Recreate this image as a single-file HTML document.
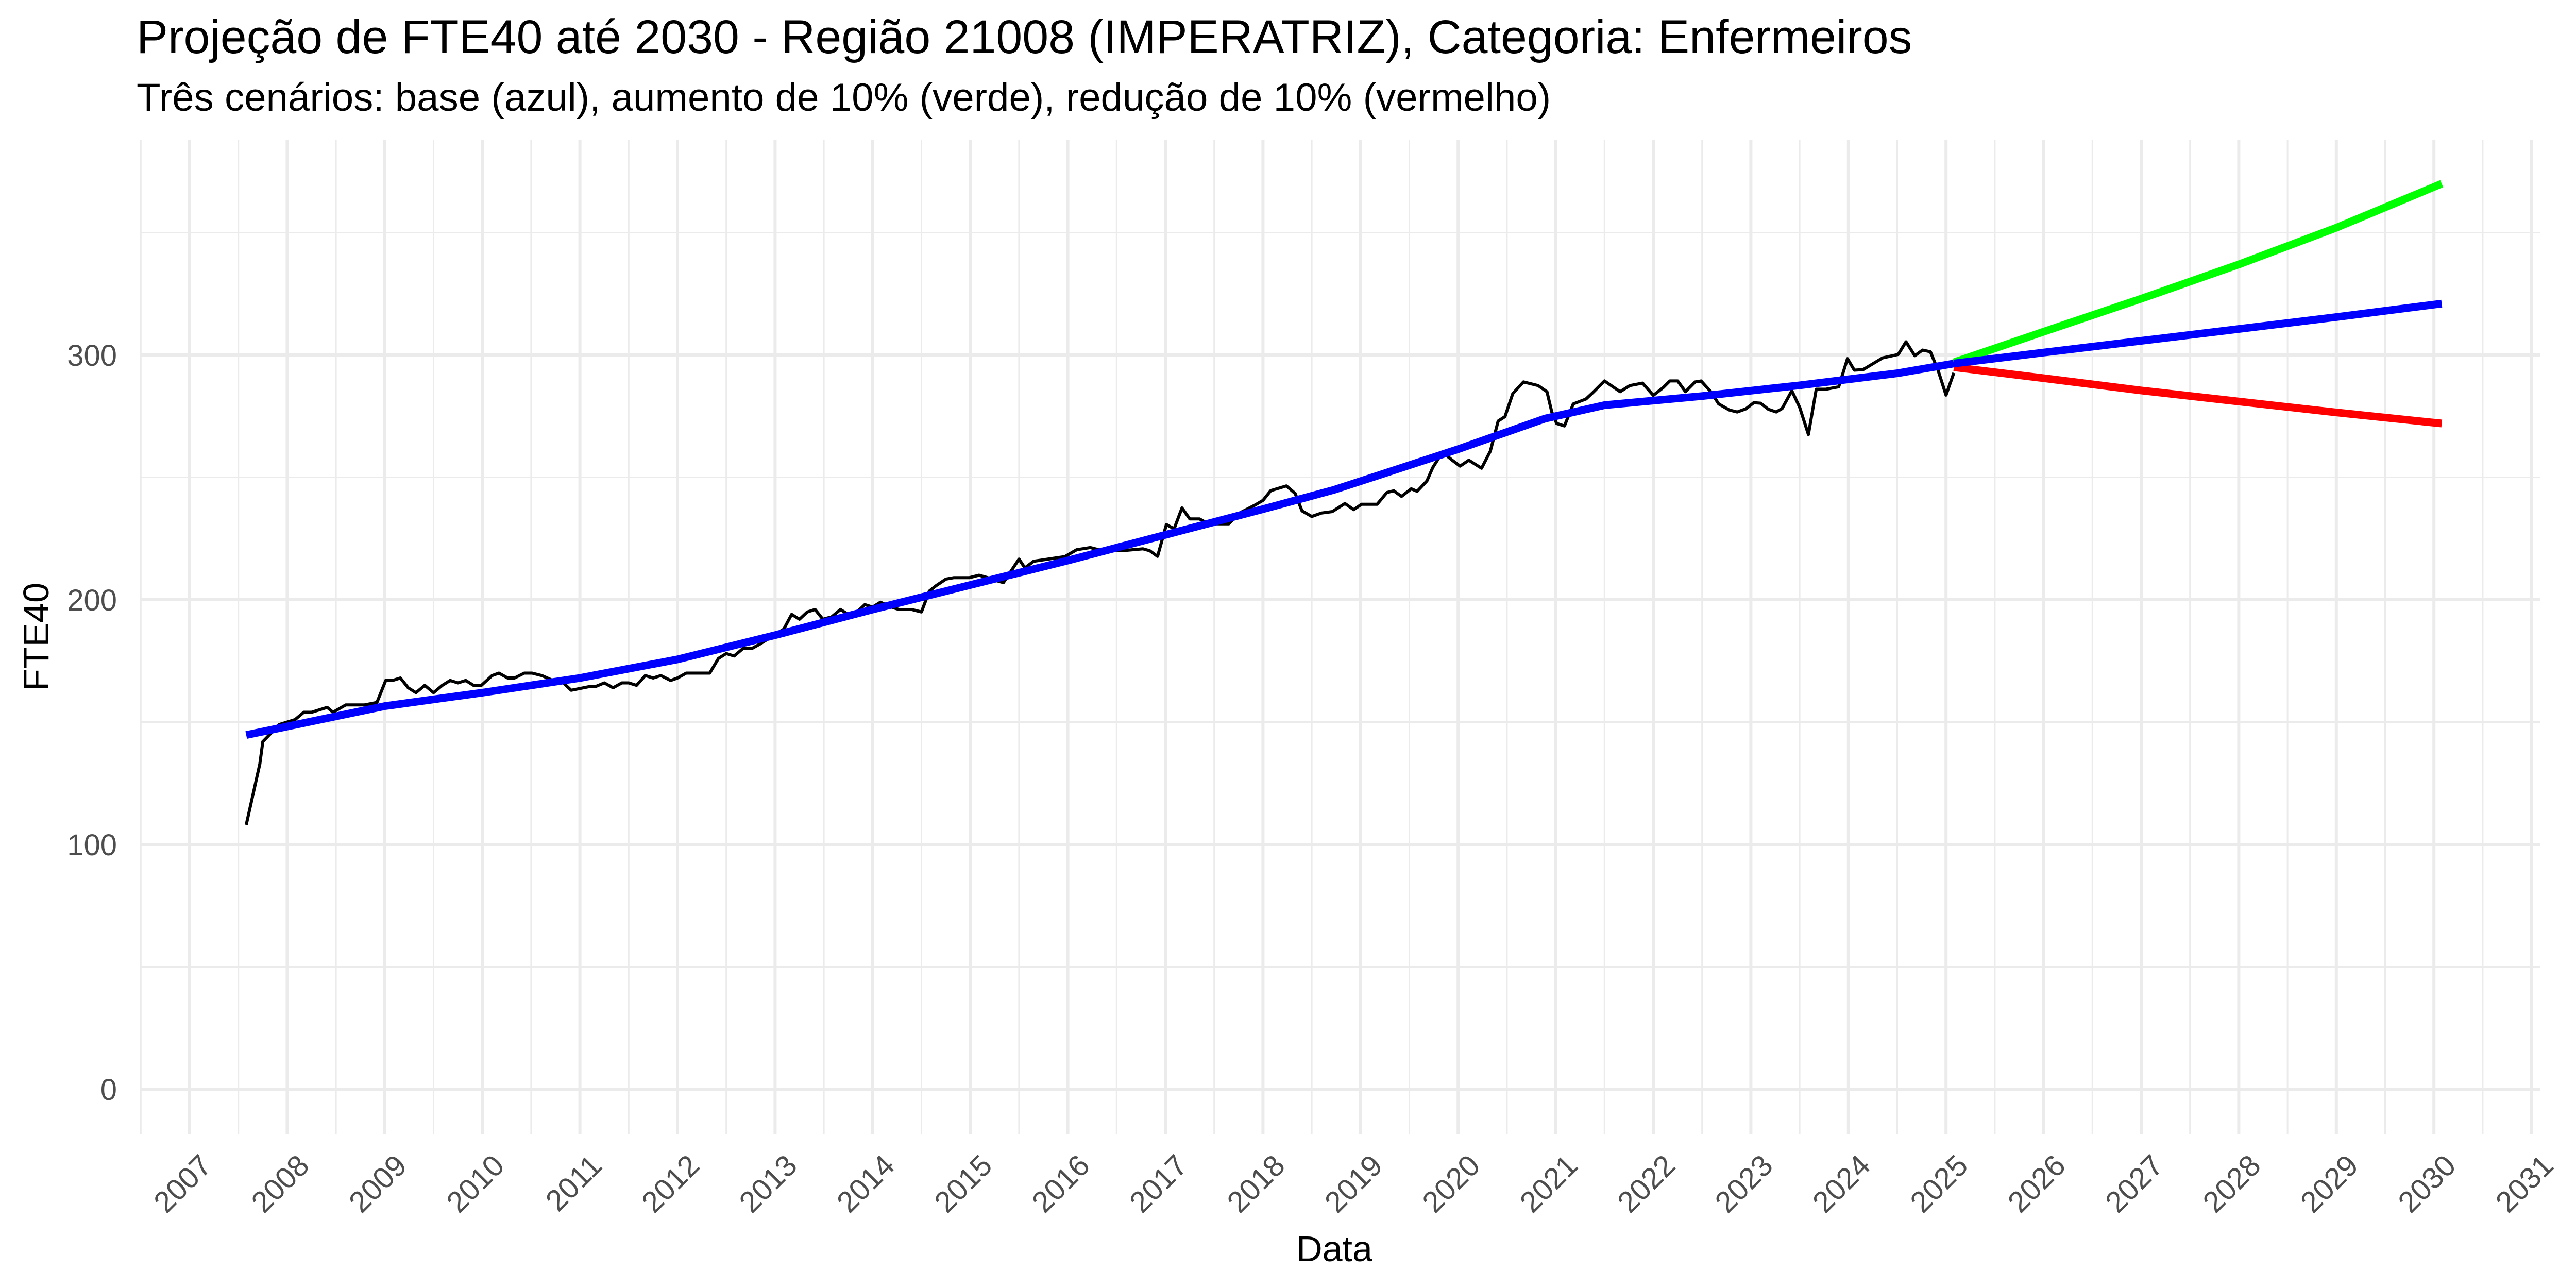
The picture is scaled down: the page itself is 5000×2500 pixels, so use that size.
<!DOCTYPE html>
<html><head><meta charset="utf-8">
<style>
html,body{margin:0;padding:0;background:#fff;}
svg{display:block;font-family:"Liberation Sans",Arial,sans-serif;}
</style></head>
<body>
<svg id="chart" width="5000" height="2500" viewBox="0 0 5000 2500" xmlns="http://www.w3.org/2000/svg">
<rect x="0" y="0" width="5000" height="2500" fill="#fff"/>
<text x="265" y="103" font-size="91.5" fill="#000">Projeção de FTE40 até 2030 - Região 21008 (IMPERATRIZ), Categoria: Enfermeiros</text>
<text x="265" y="215" font-size="76.3" fill="#000">Três cenários: base (azul), aumento de 10% (verde), redução de 10% (vermelho)</text>
<g id="grid"></g>
<g id="series"></g>
<g id="axes"></g>
<text x="2590" y="2448" font-size="70" text-anchor="middle" fill="#000">Data</text>
<text transform="translate(94,1236) rotate(-90)" font-size="70" text-anchor="middle" fill="#000">FTE40</text>
</svg>
<script>
const yearTicks = [2007,2008,2009,2010,2011,2012,2013,2014,2015,2016,2017,2018,2019,2020,2021,2022,2023,2024,2025,2026,2027,2028,2029,2030,2031];
const yTicks = [0,100,200,300];
const yMinor = [50,150,250,350];
const obsT = [2007.58,2007.72,2007.75,2007.92,2008.08,2008.17,2008.25,2008.41,2008.47,2008.6,2008.79,2008.92,2009.01,2009.08,2009.16,2009.24,2009.32,2009.41,2009.5,2009.59,2009.67,2009.75,2009.83,2009.91,2009.99,2010.1,2010.17,2010.26,2010.33,2010.43,2010.51,2010.61,2010.75,2010.83,2010.91,2011.1,2011.16,2011.25,2011.34,2011.43,2011.5,2011.58,2011.67,2011.75,2011.83,2011.93,2012.0,2012.09,2012.33,2012.42,2012.5,2012.58,2012.67,2012.76,2012.85,2013.09,2013.17,2013.25,2013.33,2013.41,2013.49,2013.58,2013.67,2013.75,2013.84,2013.92,2014.0,2014.08,2014.19,2014.27,2014.4,2014.5,2014.58,2014.65,2014.75,2014.83,2014.99,2015.09,2015.18,2015.25,2015.34,2015.5,2015.56,2015.65,2015.97,2016.09,2016.23,2016.36,2016.55,2016.77,2016.84,2016.92,2017.01,2017.09,2017.17,2017.25,2017.35,2017.44,2017.65,2017.76,2017.92,2018.0,2018.08,2018.24,2018.33,2018.4,2018.5,2018.6,2018.71,2018.84,2018.93,2019.01,2019.17,2019.27,2019.34,2019.42,2019.52,2019.58,2019.68,2019.74,2019.84,2019.94,2020.02,2020.11,2020.24,2020.33,2020.41,2020.48,2020.56,2020.67,2020.82,2020.91,2020.96,2021.01,2021.09,2021.18,2021.31,2021.39,2021.5,2021.66,2021.76,2021.89,2022.0,2022.1,2022.17,2022.25,2022.33,2022.43,2022.49,2022.59,2022.67,2022.78,2022.86,2022.95,2023.03,2023.1,2023.18,2023.26,2023.32,2023.42,2023.5,2023.59,2023.67,2023.77,2023.9,2023.99,2024.06,2024.15,2024.25,2024.35,2024.51,2024.59,2024.68,2024.76,2024.84,2024.92,2025.0,2025.08];
const obsV = [108,133,142,149,151,154,154,156,154,157,157,158,167,167,168,164,162,165,162,165,167,166,167,165,165,169,170,168,168,170,170,169,166.5,166,163,164.5,164.5,166,164,166,166,165,169,168,169,167,168,170,170,176,178,177,180,180,182,188,194,192,195,196,192,193,196,194,195,198,197,199,197,196,196,195,203.5,205.7,208.4,209,209,210,209,208,207,216.6,213,215.7,217.6,220.4,221.3,220,220,220.8,220,217.7,230.7,229,237.5,233,233,231,231,235.4,238.7,240.6,244.6,246.5,243.4,236.3,234,235.4,236,239.3,236.8,239,239,243.8,244.5,242.2,245.3,244.3,248.5,254,260.3,257,254.6,257,253.7,260.7,273,274.8,284.2,289,287.5,285,276.7,272,271,280,282,285,289.4,285,287.5,288.5,283.5,286.6,289.4,289.4,285,289,289.4,285,280,277.5,276.7,278,280.5,280.3,277.8,276.7,278.1,285.4,278.6,267.5,286,286,287,298.5,293.8,294,296.4,298.8,300.2,305.4,299.7,302,301.3,293.6,283.6,292.7];
const trendT = [2007.58,2009,2010,2011,2012,2013,2014,2015,2016,2017,2018,2018.72,2019.23,2020,2020.89,2021.5,2022.5,2023.5,2024.5,2025.08];
const trendV = [144.7,156.5,162,168,175.6,185.5,196,206,216,226.5,237,244.8,251.4,261.5,274,279.5,283.2,287.6,292.5,296.5];
const projT = [2025.08,2026,2027,2028,2029,2030.08];
const baseV = [296.5,301,305.8,310.6,315.5,321];
const highV = [297,309.5,323,337,352,370];
const lowV = [295,290.5,285.5,281,276.5,272];

const NS = "http://www.w3.org/2000/svg";
const X0 = 368, XS = 189.4, Y0 = 2114, YS = 4.75;
const PL = 272, PR = 4930, PT = 271, PB = 2202;
function xs(t){ return X0 + (t - 2007) * XS; }
function ys(v){ return Y0 - v * YS; }
function mk(tag, attrs, parent){ const e = document.createElementNS(NS, tag); for (const k in attrs) e.setAttribute(k, attrs[k]); parent.appendChild(e); return e; }

const grid = document.getElementById('grid');
const series = document.getElementById('series');
const axes = document.getElementById('axes');

yMinor.forEach(v => {
  const l = mk('line', {x1:PL, x2:PR, y1:ys(v), y2:ys(v), stroke:'#ebebeb', 'stroke-width':3}, grid);
  
  
});
yearTicks.forEach(y => {
  const l = mk('line', {x1:xs(y-0.5), x2:xs(y-0.5), y1:PT, y2:PB, stroke:'#ebebeb', 'stroke-width':3}, grid);
  
  
});
yTicks.forEach(v => {
  const l = mk('line', {x1:PL, x2:PR, y1:ys(v), y2:ys(v), stroke:'#ebebeb', 'stroke-width':6}, grid);
  
  
  const t = mk('text', {x:227, y:ys(v)+21, 'font-size':58, fill:'#4d4d4d', 'text-anchor':'end'}, axes);
  t.textContent = v;
  
  
});
yearTicks.forEach(y => {
  const l = mk('line', {x1:xs(y), x2:xs(y), y1:PT, y2:PB, stroke:'#ebebeb', 'stroke-width':6}, grid);
  
  
  const t = mk('text', {transform:'translate(' + (xs(y)+46) + ',2266) rotate(-45)', 'font-size':58, fill:'#4d4d4d', 'text-anchor':'end'}, axes);
  t.textContent = y;
  
  
});

function path(T, V, color, w, name){
  let d = '';
  T.forEach((t,i) => { d += (i ? 'L' : 'M') + xs(t).toFixed(1) + ',' + ys(V[i]).toFixed(1); });
  const p = mk('path', {d:d, fill:'none', stroke:color, 'stroke-width':w, 'stroke-linejoin':'round'}, series);
  
  
}
path(obsT, obsV, '#000', 6, 'observed-line');
path(trendT, trendV, '#0000ff', 15, 'historical-trend-line');
path(projT, highV, '#00ff00', 15, 'increase-scenario-line');
path(projT, lowV, '#ff0000', 15, 'decrease-scenario-line');
path(projT, baseV, '#0000ff', 15, 'base-scenario-line');
</script>
</body></html>
